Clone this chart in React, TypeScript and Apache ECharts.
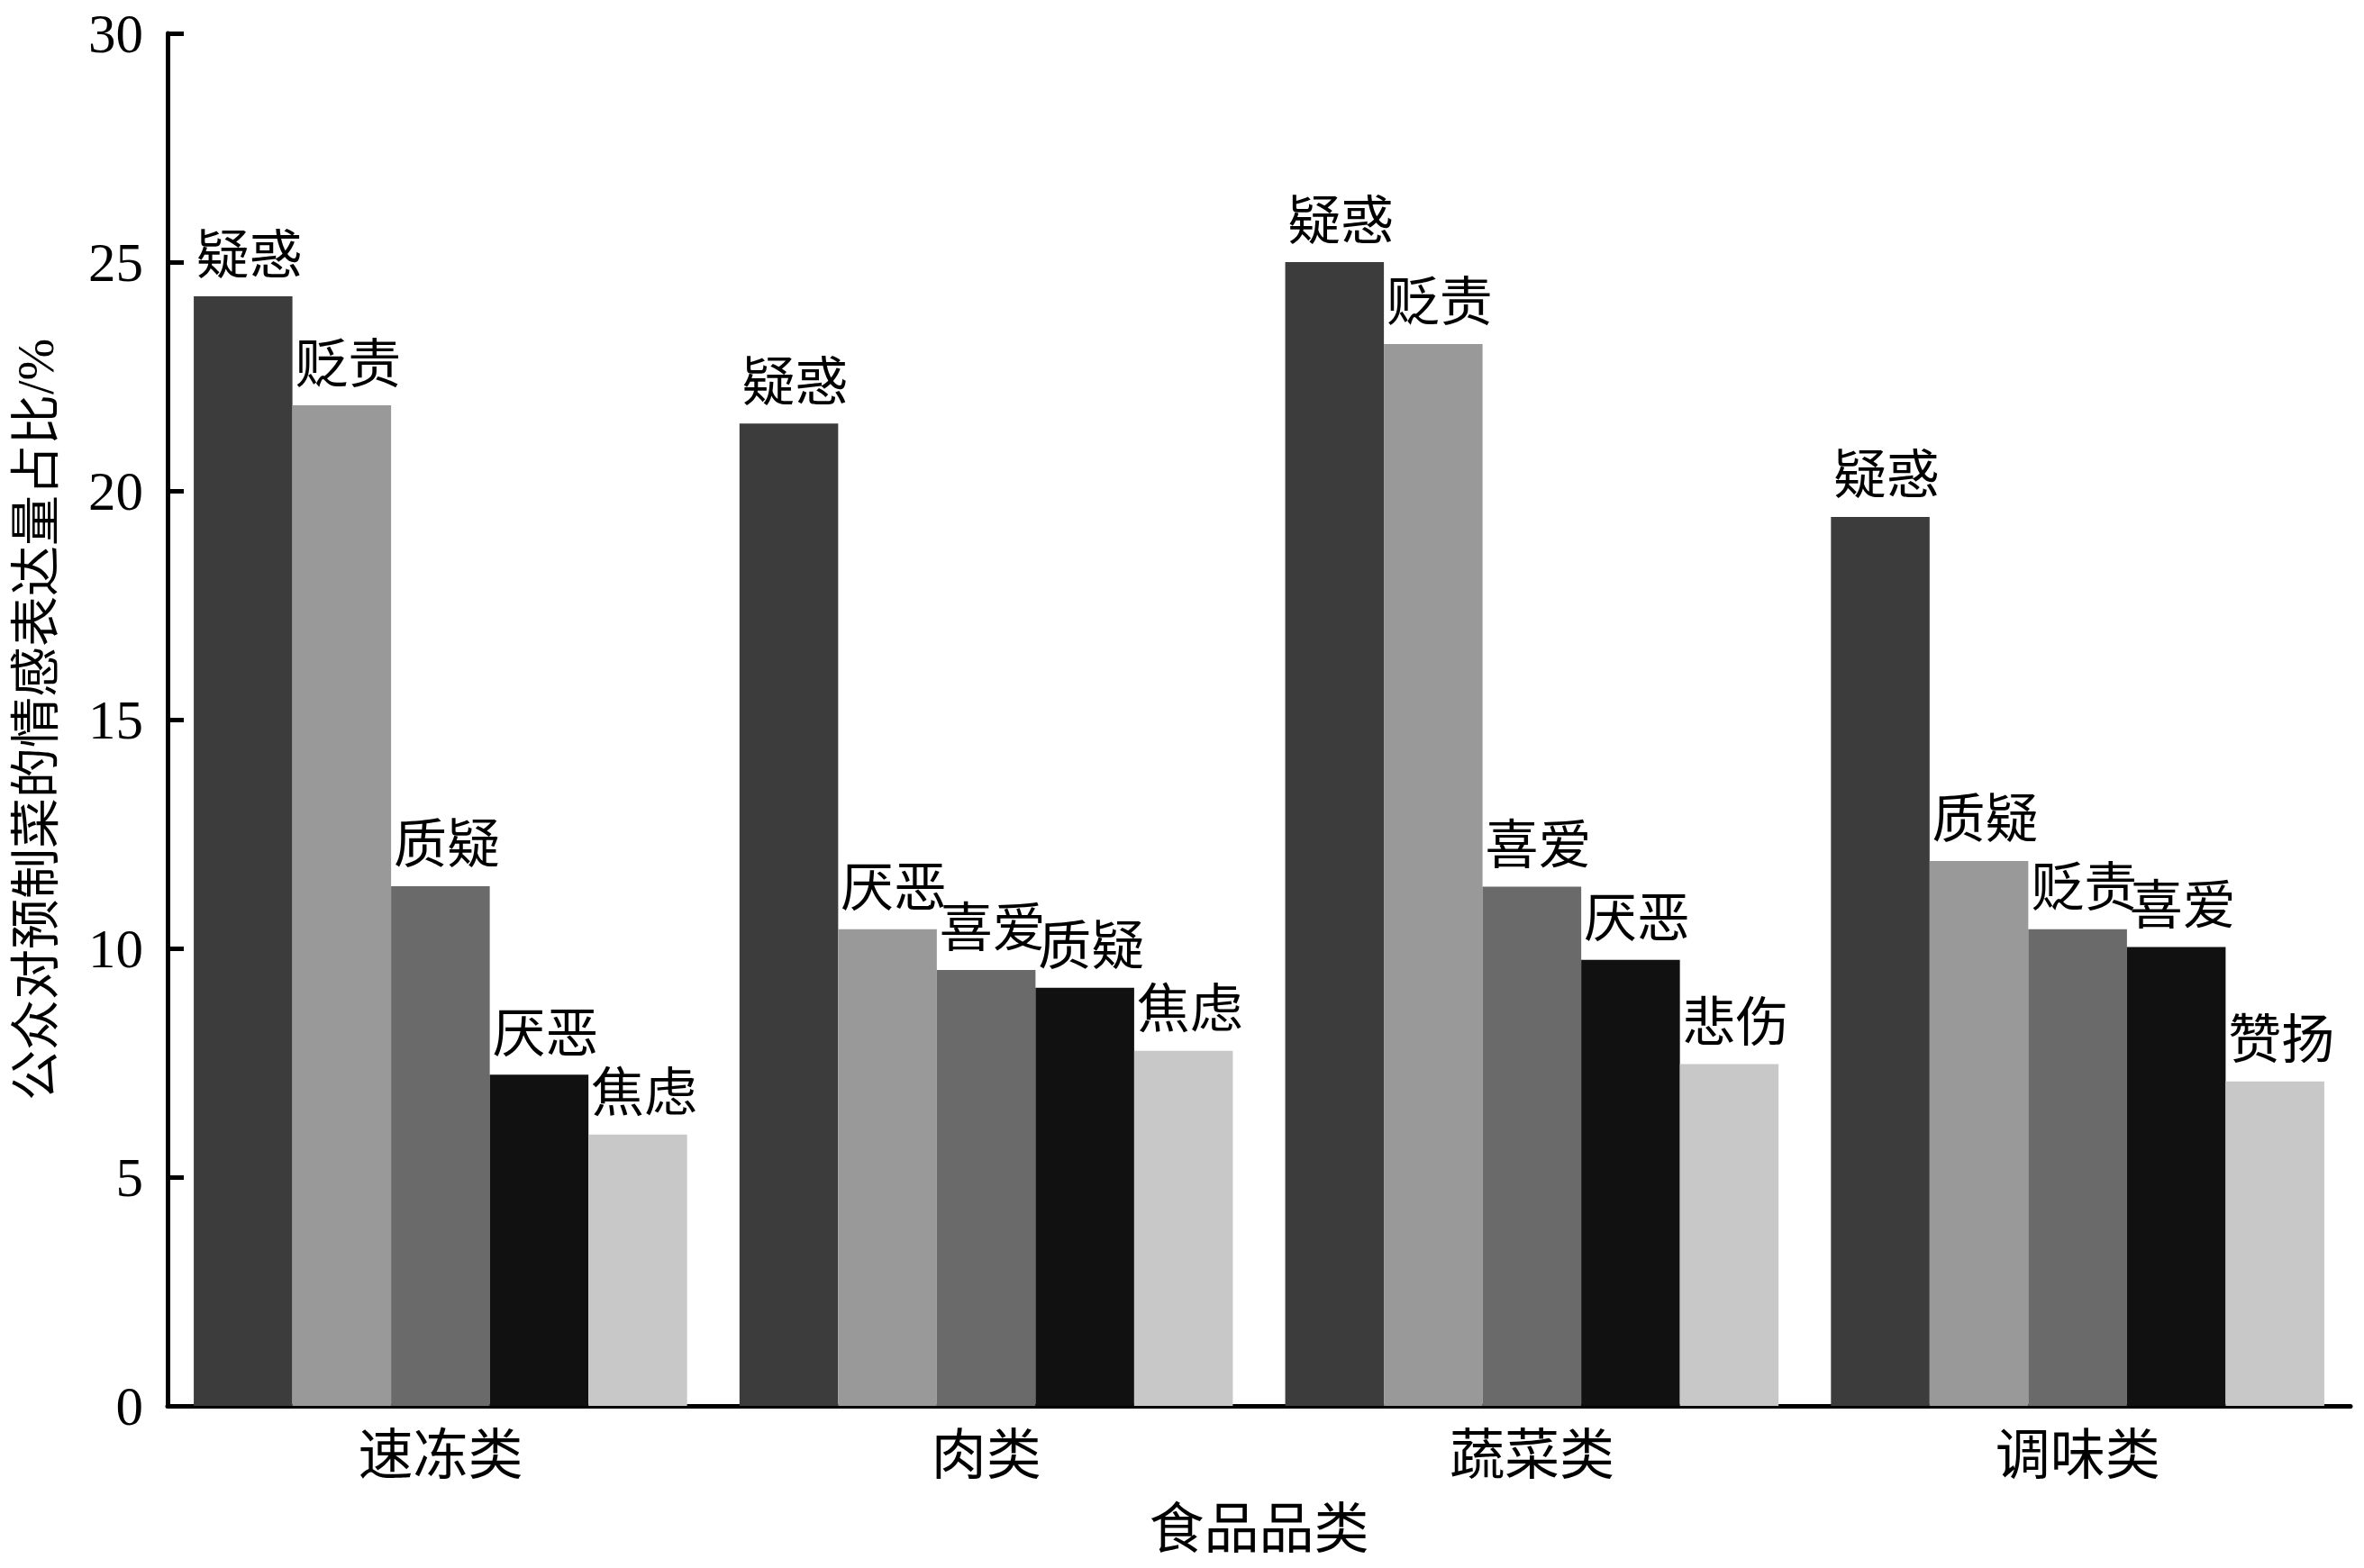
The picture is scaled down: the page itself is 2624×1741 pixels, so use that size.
import React, { useEffect, useRef } from "react";
import * as echarts from "echarts";

const categories = ["速冻类", "肉类", "蔬菜类", "调味类"];

// bars ranked within each category (1 = highest)
const rank1Values = [24.25, 21.47, 25.0, 19.43];
const rank2Values = [21.87, 10.42, 23.21, 11.91];
const rank3Values = [11.36, 9.53, 11.35, 10.42];
const rank4Values = [7.24, 9.14, 9.75, 10.03];
const rank5Values = [5.93, 7.76, 7.47, 7.09];

const rank1Labels = ["疑惑", "疑惑", "疑惑", "疑惑"];
const rank2Labels = ["贬责", "厌恶", "贬责", "质疑"];
const rank3Labels = ["质疑", "喜爱", "喜爱", "贬责"];
const rank4Labels = ["厌恶", "质疑", "厌恶", "喜爱"];
const rank5Labels = ["焦虑", "焦虑", "悲伤", "赞扬"];

const rankColors = ["#3c3c3c", "#999999", "#6a6a6a", "#111111", "#c8c8c8"];

const yTicks = { min: 0, max: 30, interval: 5 };

const FONT = "'Liberation Serif', 'Noto Sans CJK SC', serif";

export default function App() {
  const ref = useRef<HTMLDivElement>(null);

  useEffect(() => {
    document.body.style.margin = "0";
    if (!ref.current) return;
    const chart = echarts.init(ref.current, null, { renderer: "svg" });

    const values = [rank1Values, rank2Values, rank3Values, rank4Values, rank5Values];
    const labels = [rank1Labels, rank2Labels, rank3Labels, rank4Labels, rank5Labels];

    const series = values.map((vals, i) => ({
      type: "bar",
      name: "rank" + (i + 1),
      data: vals,
      barGap: "0%",
      barCategoryGap: "9.6%",
      itemStyle: { color: rankColors[i] },
      label: {
        show: true,
        position: "top",
        distance: 16,
        offset: [7, 0],
        formatter: (p: any) => labels[i][p.dataIndex],
        fontFamily: FONT,
        fontSize: 59,
        color: "#000",
      },
    }));

    chart.setOption({
      animation: false,
      backgroundColor: "#ffffff",
      grid: { left: 186, right: 15, top: 37, bottom: 180, containLabel: false },
      xAxis: {
        type: "category",
        data: categories,
        name: "食品品类",
        nameLocation: "middle",
        nameGap: 107,
        nameTextStyle: { fontFamily: FONT, fontSize: 61, color: "#000" },
        axisLine: { show: true, lineStyle: { color: "#000", width: 5 } },
        axisTick: { show: false },
        axisLabel: { fontFamily: FONT, fontSize: 61, color: "#000", margin: 25 },
        splitLine: { show: false },
      },
      yAxis: {
        type: "value",
        min: yTicks.min,
        max: yTicks.max,
        interval: yTicks.interval,
        name: "公众对预制菜的情感表达量占比/%",
        nameLocation: "middle",
        nameGap: 118,
        nameTextStyle: { fontFamily: FONT, fontSize: 56, color: "#000" },
        axisLine: { show: true, lineStyle: { color: "#000", width: 5 } },
        axisTick: { show: true, inside: true, length: 18, lineStyle: { color: "#000", width: 5 } },
        axisLabel: { fontFamily: FONT, fontSize: 61, color: "#000", margin: 27 },
        splitLine: { show: false },
      },
      series,
    });

    return () => chart.dispose();
  }, []);

  return <div ref={ref} style={{ width: "2624px", height: "1741px" }} />;
}
